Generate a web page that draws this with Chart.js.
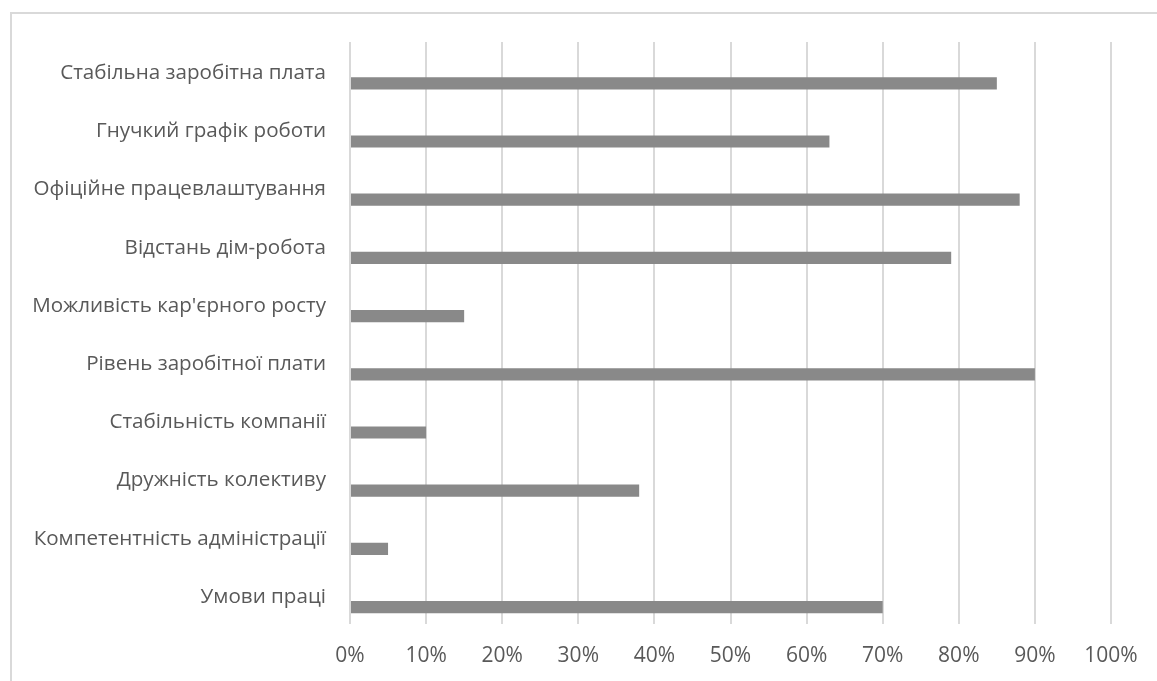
<!DOCTYPE html>
<html>
<head>
<meta charset="utf-8">
<script src="https://cdn.jsdelivr.net/npm/chart.js@4"></script>
<style>
    body { margin: 0; background: #fff; }
    #wrap { width: 1157px; height: 681px; position: relative; }
</style>
</head>
<body>
<div id="wrap"><canvas id="chart" width="1157" height="681"></canvas></div>
<script>
const categories = [
    'Стабільна заробітна плата',
    'Гнучкий графік роботи',
    'Офіційне працевлаштування',
    'Відстань дім-робота',
    "Можливість кар'єрного росту",
    'Рівень заробітної плати',
    'Стабільність компанії',
    'Дружність колективу',
    'Компетентність адміністрації',
    'Умови праці'
];
const values = [85, 63, 88, 79, 15, 90, 10, 38, 5, 70];
const emptySeries = [];
const tickMin = 0;
const tickMax = 100;
const tickStep = 10;

const textColor = '#595959';
const gridColor = '#d9d9d9';
const barColor = '#898989';

// frame lines of the chart box
const framePlugin = {
    id: 'frame',
    beforeDraw(chart) {
        const ctx = chart.ctx;
        ctx.save();
        ctx.strokeStyle = gridColor;
        ctx.lineWidth = 2;
        ctx.beginPath();
        ctx.moveTo(11, 681);
        ctx.lineTo(11, 13);
        ctx.lineTo(1157, 13);
        ctx.stroke();
        ctx.restore();
    }
};

const ctx = document.getElementById('chart').getContext('2d');
new Chart(ctx, {
    type: 'bar',
    data: {
        labels: categories,
        datasets: [
            {
                label: '',
                data: emptySeries,
                backgroundColor: barColor
            },
            {
                label: 'Ряд 1',
                data: values,
                backgroundColor: barColor
            }
        ]
    },
    options: {
        indexAxis: 'y',
        responsive: false,
        animation: false,
        categoryPercentage: 0.838,
        barPercentage: 0.5,
        layout: {
            padding: { top: 42, right: 46, left: 0, bottom: 0 }
        },
        scales: {
            x: {
                min: tickMin,
                max: tickMax,
                ticks: {
                    stepSize: tickStep,
                    color: textColor,
                    font: { family: 'Open Sans', size: 21 },
                    padding: 19,
                    maxRotation: 0,
                    callback: v => v + '%'
                },
                grid: {
                    color: gridColor,
                    lineWidth: 2,
                    drawTicks: false
                },
                border: { display: false },
                afterFit: scale => { scale.height = 57; }
            },
            y: {
                ticks: {
                    color: textColor,
                    font: { family: 'Open Sans', size: 20.6 },
                    padding: 24,
                    labelOffset: 2
                },
                grid: { display: false, drawTicks: false },
                border: { display: false },
                afterFit: scale => { scale.width = 350; }
            }
        },
        plugins: {
            legend: { display: false },
            tooltip: { enabled: false }
        }
    },
    plugins: [framePlugin]
});
</script>
</body>
</html>
